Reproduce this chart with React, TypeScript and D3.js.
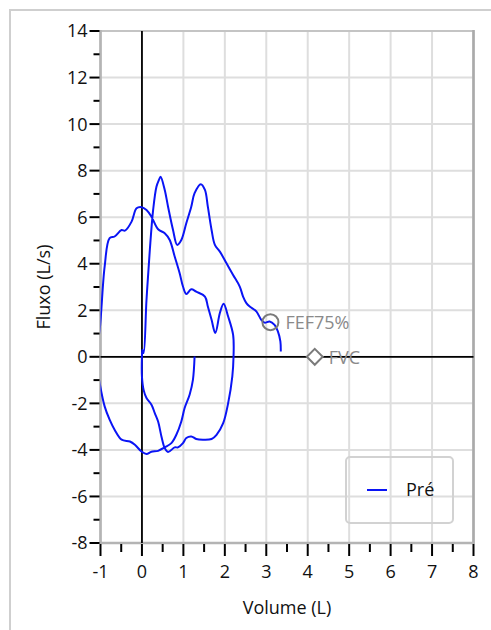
import React, { useEffect, useRef } from 'react';
import * as d3 from 'd3';

// flow-volume loop, "Pré" trial (volume in L, flow in L/s)
const volumePre = [
  1.27, 1.23, 1.15, 1.03, 0.95, 0.83, 0.71, 0.55, 0.39, 0.23, 0.11, -0.01, -0.17, -0.29, -0.49, -0.66, -0.78, -0.9, -1.02,
  -1.12,
  -1.02, -0.9, -0.78, -0.66, -0.49, -0.41, -0.25, -0.13, -0.01, 0.11, 0.23, 0.39, 0.55, 0.67, 0.79, 0.91, 0.99, 1.07,
  1.19, 1.31, 1.52, 1.59, 1.68, 1.77, 1.88, 1.97, 2.08, 2.2, 2.21,
  2.18, 2.08, 1.96, 1.8, 1.68, 1.47, 1.31, 1.19, 1.07, 0.99, 0.87, 0.79, 0.63, 0.55, 0.47, 0.39, 0.31, 0.23, 0.11, 0.04,
  0.0, 0.0, 0.01, 0.04,
  0.11, 0.19, 0.27, 0.35, 0.41, 0.45, 0.55, 0.63, 0.75, 0.85, 0.95, 1.07, 1.19, 1.27, 1.42, 1.52, 1.59, 1.68, 1.76,
  1.88, 2.04, 2.2, 2.36, 2.44, 2.52, 2.6, 2.76, 2.88, 2.96, 3.08, 3.2, 3.28, 3.34, 3.35,
];
const flowPre = [
  0.01, -0.99, -1.63, -2.2, -2.78, -3.35, -3.71, -3.89, -4.04, -4.08, -4.18, -4.07, -3.78, -3.64, -3.56, -3.13, -2.7, -2.13, -1.13,
  0.0,
  1.16, 3.88, 5.1, 5.17, 5.45, 5.42, 5.81, 6.38, 6.43, 6.31, 6.02, 5.48, 5.31, 5.02, 4.31, 3.59, 3.02, 2.7,
  2.9, 2.8, 2.59, 2.16, 1.59, 1.02, 1.88, 2.28, 1.73, 0.94, 0.01,
  -0.85, -1.99, -2.85, -3.35, -3.53, -3.56, -3.53, -3.42, -3.49, -3.71, -3.89, -3.89, -4.09, -3.92, -3.42, -2.78, -2.42, -2.06, -1.77, -1.42,
  -0.85, 0.01, 0.3, 0.16,
  2.45, 4.59, 6.31, 7.31, 7.6, 7.74, 7.17, 6.45, 5.45, 4.81, 5.02, 5.74, 6.45, 7.03, 7.42, 7.17, 6.45, 5.45, 4.81,
  4.52, 4.02, 3.52, 3.02, 2.59, 2.31, 2.16, 1.95, 1.59, 1.47, 1.52, 1.37, 1.09, 0.66, 0.23,
];

const markerNames = ['FEF75%', 'FVC'];
const markerVolume = [3.1, 4.17];
const markerFlow = [1.49, 0];

const xTicks = d3.range(-1, 9, 1);
const xMinorTicks = d3.range(-0.5, 8, 1);
const yTicks = d3.range(-8, 15, 2);
const yMinorTicks = d3.range(-7, 14, 2);

const seriesName = 'Pré';

const W = 491;
const H = 630;
const FONT = '"Open Sans", "DejaVu Sans", sans-serif';
const FS = '18px';

const App: React.FC = () => {
  const svgRef = useRef<SVGSVGElement>(null);

  useEffect(() => {
    if (!svgRef.current) return;
    const svg = d3.select(svgRef.current);
    svg.selectAll('*').remove();

    const left = 100.5;
    const right = 473.5;
    const top = 31;
    const bottom = 543;

    const x = d3.scaleLinear().domain([-1, 8]).range([left, right]);
    const y = d3.scaleLinear().domain([-8, 14]).range([bottom, top]);

    // outer frame
    svg.append('rect')
      .attr('x', 10).attr('y', 10)
      .attr('width', 600).attr('height', 800)
      .attr('fill', 'none')
      .attr('stroke', '#cfcfcf')
      .attr('stroke-width', 2);

    svg.append('defs').append('clipPath').attr('id', 'plot-clip')
      .append('rect')
      .attr('x', left).attr('y', top)
      .attr('width', right - left).attr('height', bottom - top);

    // grid
    const grid = svg.append('g');
    grid.selectAll('.vg')
      .data(xTicks)
      .enter().append('line')
      .attr('x1', d => x(d)).attr('x2', d => x(d))
      .attr('y1', top).attr('y2', bottom)
      .attr('stroke', '#dedede').attr('stroke-width', 2);
    grid.selectAll('.hg')
      .data(yTicks)
      .enter().append('line')
      .attr('x1', left).attr('x2', right)
      .attr('y1', d => y(d)).attr('y2', d => y(d))
      .attr('stroke', '#dedede').attr('stroke-width', 2);

    // plot frame
    svg.append('rect')
      .attr('x', left).attr('y', top)
      .attr('width', right - left).attr('height', bottom - top)
      .attr('fill', 'none')
      .attr('stroke', '#c4c4c4')
      .attr('stroke-width', 2);
    svg.append('line')
      .attr('x1', right).attr('x2', right).attr('y1', top - 1).attr('y2', bottom + 1)
      .attr('stroke', '#aaaaaa').attr('stroke-width', 2.5);
    svg.append('line')
      .attr('x1', left).attr('x2', left).attr('y1', top - 1).attr('y2', bottom + 1)
      .attr('stroke', '#b4b4b4').attr('stroke-width', 2.5);
    svg.append('line')
      .attr('x1', left).attr('x2', right).attr('y1', bottom).attr('y2', bottom)
      .attr('stroke', '#b4b4b4').attr('stroke-width', 2.5);

    // zero lines
    svg.append('line')
      .attr('x1', x(0)).attr('x2', x(0)).attr('y1', top).attr('y2', bottom)
      .attr('stroke', '#000').attr('stroke-width', 1.8);
    svg.append('line')
      .attr('x1', left).attr('x2', right).attr('y1', y(0)).attr('y2', y(0))
      .attr('stroke', '#000').attr('stroke-width', 1.8);

    // left axis ticks
    const yAxis = svg.append('g');
    yAxis.selectAll('.yt')
      .data(yTicks)
      .enter().append('line')
      .attr('x1', left - 11).attr('x2', left - 1)
      .attr('y1', d => y(d)).attr('y2', d => y(d))
      .attr('stroke', '#000').attr('stroke-width', 2);
    yAxis.selectAll('.ym')
      .data(yMinorTicks)
      .enter().append('line')
      .attr('x1', left - 7).attr('x2', left - 1)
      .attr('y1', d => y(d)).attr('y2', d => y(d))
      .attr('stroke', '#000').attr('stroke-width', 2);
    yAxis.selectAll('.yl')
      .data(yTicks)
      .enter().append('text')
      .attr('x', left - 13)
      .attr('y', d => y(d))
      .attr('dy', '0.36em')
      .attr('text-anchor', 'end')
      .style('font-family', FONT)
      .style('font-size', FS)
      .style('fill', '#111')
      .text(d => String(d));

    // bottom axis ticks
    const xAxis = svg.append('g');
    xAxis.selectAll('.xt')
      .data(xTicks)
      .enter().append('line')
      .attr('x1', d => x(d)).attr('x2', d => x(d))
      .attr('y1', bottom + 1).attr('y2', bottom + 13)
      .attr('stroke', '#000').attr('stroke-width', 2);
    xAxis.selectAll('.xm')
      .data(xMinorTicks)
      .enter().append('line')
      .attr('x1', d => x(d)).attr('x2', d => x(d))
      .attr('y1', bottom + 1).attr('y2', bottom + 9)
      .attr('stroke', '#000').attr('stroke-width', 2);
    xAxis.selectAll('.xl')
      .data(xTicks)
      .enter().append('text')
      .attr('x', d => x(d))
      .attr('y', bottom + 35)
      .attr('text-anchor', 'middle')
      .style('font-family', FONT)
      .style('font-size', FS)
      .style('fill', '#111')
      .text(d => String(d));

    // axis titles
    svg.append('text')
      .attr('x', (left + right) / 2)
      .attr('y', 614)
      .attr('text-anchor', 'middle')
      .style('font-family', FONT)
      .style('font-size', FS)
      .style('fill', '#111')
      .text('Volume (L)');
    svg.append('text')
      .attr('transform', `translate(50,${(top + bottom) / 2}) rotate(-90)`)
      .attr('text-anchor', 'middle')
      .style('font-family', FONT)
      .style('font-size', FS)
      .style('fill', '#111')
      .text('Fluxo (L/s)');

    // curve
    const points: [number, number][] = volumePre.map((v, i) => [v, flowPre[i]]);
    const line = d3.line<[number, number]>()
      .x(d => x(d[0]))
      .y(d => y(d[1]))
      .curve(d3.curveCatmullRom.alpha(0.5));
    svg.append('path')
      .attr('clip-path', 'url(#plot-clip)')
      .attr('d', line(points) ?? '')
      .attr('fill', 'none')
      .attr('stroke', '#0a14f5')
      .attr('stroke-width', 2)
      .attr('stroke-linejoin', 'round');

    // markers
    const mk = svg.append('g');
    markerNames.forEach((name, i) => {
      const cx = x(markerVolume[i]);
      const cy = y(markerFlow[i]);
      if (i === 0) {
        mk.append('circle')
          .attr('cx', cx).attr('cy', cy).attr('r', 8)
          .attr('fill', 'none').attr('stroke', '#7a7a7a').attr('stroke-width', 2);
      } else {
        mk.append('path')
          .attr('d', d3.symbol(d3.symbolDiamond2, 160)())
          .attr('transform', `translate(${cx},${cy})`)
          .attr('fill', 'white').attr('stroke', '#7a7a7a').attr('stroke-width', 2);
      }
      mk.append('text')
        .attr('x', cx + (i === 0 ? 15 : 14))
        .attr('y', cy)
        .attr('dy', '0.38em')
        .style('font-family', FONT)
        .style('font-size', FS)
        .style('fill', '#8a8a8a')
        .text(name);
    });

    // legend
    const lg = svg.append('g');
    lg.append('rect')
      .attr('x', 346).attr('y', 457)
      .attr('width', 107).attr('height', 66)
      .attr('rx', 4)
      .attr('fill', 'none')
      .attr('stroke', '#d2d2d2')
      .attr('stroke-width', 2);
    lg.append('line')
      .attr('x1', 367).attr('x2', 387).attr('y1', 490).attr('y2', 490)
      .attr('stroke', '#0a14f5').attr('stroke-width', 2);
    lg.append('text')
      .attr('x', 406).attr('y', 490)
      .attr('dy', '0.36em')
      .style('font-family', FONT)
      .style('font-size', FS)
      .style('fill', '#111')
      .text(seriesName);
  }, []);

  return (
    <svg
      ref={svgRef}
      width={W}
      height={H}
      style={{ position: 'fixed', left: 0, top: 0, background: '#fff' }}
    />
  );
};

export default App;
